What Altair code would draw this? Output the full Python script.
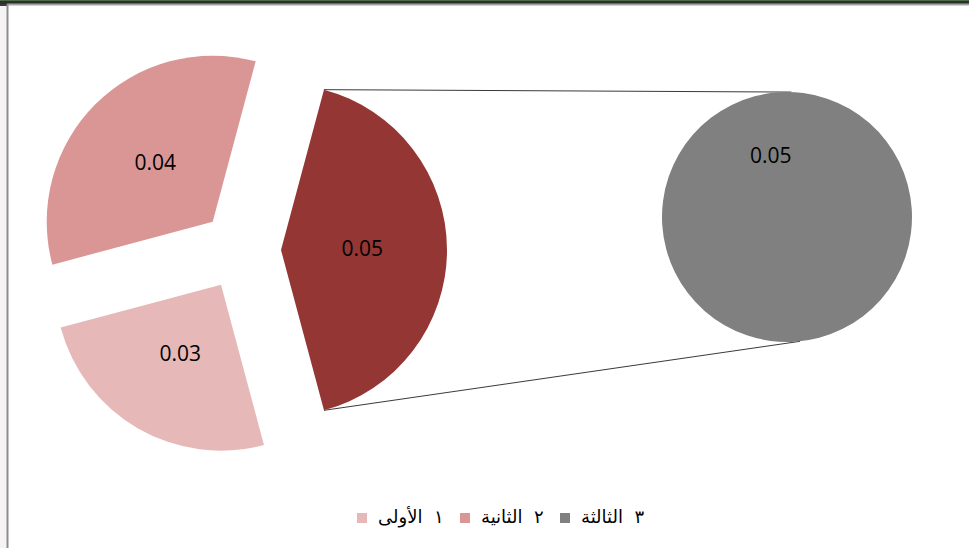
import math
import altair as alt
import pandas as pd

# ---------------- data ----------------
primary_labels = ["١ الأولى", "٢ الثانية"]
primary_values = [0.03, 0.04]
secondary_labels = ["٣ الثالثة"]
secondary_values = [0.05]
other_label = "أخرى"

legend_labels = primary_labels + secondary_labels
color_domain = legend_labels + [other_label]
color_range = ["#E6B9B8", "#D99694", "#808080", "#943634"]

# ---------------- layout ----------------
W, H = 969, 548
MAIN_CX, MAIN_CY, MAIN_R = 241, 250, 166
EXPLODE = 40
MAIN_START = 15          # degrees, clockwise from 12 o'clock
SEC_CX, SEC_CY, SEC_R = 787, 217, 125
SEC_START = 165
LABEL_FRAC = 0.49

main_df = pd.DataFrame({
    "cat": [other_label] + primary_labels,
    "value": [sum(secondary_values)] + primary_values,
})
main_df["idx"] = range(len(main_df))
sec_df = pd.DataFrame({"cat": secondary_labels, "value": secondary_values})
sec_df["idx"] = range(len(sec_df))

color_scale = alt.Scale(domain=color_domain, range=color_range)


def pie(df, cx, cy, r, start_deg, explode, label_r, with_legend):
    base = (
        alt.Chart(df)
        .transform_joinaggregate(total="sum(value)")
        .transform_window(cum="sum(value)", sort=[alt.SortField("idx")], frame=[None, 0])
        .transform_calculate(
            a1=f"{math.radians(start_deg)} + 2*PI*datum.cum/datum.total",
            a0="datum.a1 - 2*PI*datum.value/datum.total",
            mid="(datum.a0 + datum.a1)/2",
            cx=f"{cx} + {explode}*sin(datum.mid)",
            cy=f"{cy} - {explode}*cos(datum.mid)",
            lx=f"datum.cx + {label_r}*sin(datum.mid)",
            ly=f"datum.cy - {label_r}*cos(datum.mid)",
            txt="format(datum.value, '.2f')",
        )
    )
    if with_legend:
        legend = alt.Legend(
            values=legend_labels,
            title=None,
            orient="none",
            legendX=353,
            legendY=509,
            direction="horizontal",
            symbolType="square",
            symbolSize=100,
            symbolStrokeWidth=0,
            labelFont="DejaVu Sans",
            labelFontSize=18,
            labelColor="#000000",
            labelLimit=300,
            labelOffset=7,
            columnPadding=12,
            labelExpr="replace(datum.label, ' ', '\u00a0\u00a0')",
        )
    else:
        legend = None
    arcs = base.mark_arc(radius=r).encode(
        x=alt.X("cx:Q", scale=None, axis=None),
        y=alt.Y("cy:Q", scale=None, axis=None),
        theta=alt.Theta("a0:Q", scale=None),
        theta2="a1:Q",
        color=alt.Color("cat:N", scale=color_scale, legend=legend),
    )
    labels = base.mark_text(font="Open Sans", fontSize=21, color="#000000").encode(
        x=alt.X("lx:Q", scale=None, axis=None),
        y=alt.Y("ly:Q", scale=None, axis=None),
        text="txt:N",
    )
    return arcs, labels


main_arcs, main_text = pie(main_df, MAIN_CX, MAIN_CY, MAIN_R, MAIN_START, EXPLODE,
                           LABEL_FRAC * MAIN_R, True)
sec_arcs, sec_text = pie(sec_df, SEC_CX, SEC_CY, SEC_R, SEC_START, 0, 0.5 * SEC_R, False)

# connector lines: from the "other" slice corners to the secondary pie
other_share = sum(secondary_values) / (sum(secondary_values) + sum(primary_values))
a0 = math.radians(MAIN_START)
a1 = a0 + 2 * math.pi * other_share
mid = (a0 + a1) / 2
ocx = MAIN_CX + EXPLODE * math.sin(mid)
ocy = MAIN_CY - EXPLODE * math.cos(mid)
p_top = (ocx + MAIN_R * math.sin(a0), ocy - MAIN_R * math.cos(a0))
p_bot = (ocx + MAIN_R * math.sin(a1), ocy - MAIN_R * math.cos(a1))
s_top = (SEC_CX + SEC_R * math.sin(math.radians(2)), SEC_CY - SEC_R * math.cos(math.radians(2)))
s_bot = (SEC_CX + SEC_R * math.sin(math.radians(174)), SEC_CY - SEC_R * math.cos(math.radians(174)))

one = alt.Data(values=[{"k": 0}])


def rule(p, q, color="#3a3a3a", width=1):
    return alt.Chart(one).mark_rule(color=color, strokeWidth=width).encode(
        x=alt.value(p[0]), y=alt.value(p[1]), x2=alt.value(q[0]), y2=alt.value(q[1])
    )


def rect(x0, y0, x1, y1, color):
    return alt.Chart(one).mark_rect(color=color).encode(
        x=alt.value(x0), y=alt.value(y0), x2=alt.value(x1), y2=alt.value(y1)
    )


frame = [
    rect(0, 6, 7, H, "#f5f3f3"),
    rect(0, 0, W, 1, "#4d6b47"),
    rect(0, 1, W, 4, "#2e2e2e"),
    rect(0, 4, 7, 6, "#3a3a3a"),
    rule((7, 4.5), (W, 4.5), "#a3a3a3", 2),
    rule((7.5, 4), (7.5, H), "#8e8e8e", 2),
]

connectors = [rule(p_top, s_top), rule(p_bot, s_bot)]

chart = (
    alt.layer(*frame, *connectors, main_arcs, sec_arcs, main_text, sec_text)
    .properties(width=W, height=H, padding=0, autosize="none", background="#ffffff")
    .configure_view(stroke=None)
)

chart.save("out.html", embed_options={"renderer": "svg", "actions": False})
